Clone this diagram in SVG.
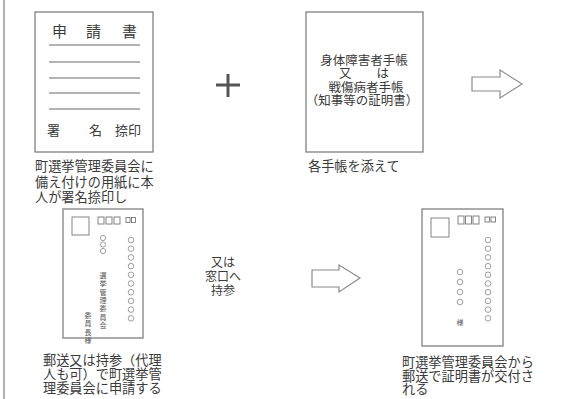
<svg xmlns="http://www.w3.org/2000/svg" width="571" height="399" viewBox="0 0 571 399">
<style>
.box{fill:#fff;stroke:#808080;stroke-width:1.3}
.ln{stroke:#6a6a6a;stroke-width:1.1}
.t{font-family:"Noto Sans CJK JP","Noto Sans CJK SC",sans-serif;fill:#3a3a3a}
.cap{font-size:13.2px}
.sm{font-size:7px;fill:#555}
.v{writing-mode:vertical-rl;text-orientation:upright;letter-spacing:1.3px}
.c{fill:none;stroke:#888;stroke-width:0.8}
.pc{fill:none;stroke:#777;stroke-width:0.9}
.arr{fill:#fff;stroke:#8a8a8a;stroke-width:1.2;stroke-linejoin:miter}
</style>
<rect width="571" height="399" fill="#fff"/>
<line x1="4" y1="0" x2="4" y2="399" stroke="#999" stroke-width="1.5"/>

<g id="form">
<rect class="box" x="35" y="12" width="118" height="140"/>
<text class="t" x="52" y="37" font-size="15">申</text>
<text class="t" x="86" y="37" font-size="15">請</text>
<text class="t" x="122" y="37" font-size="15">書</text>
<line class="ln" x1="49" y1="45" x2="140" y2="45"/>
<line class="ln" x1="49" y1="62" x2="140" y2="62"/>
<line class="ln" x1="49" y1="78" x2="140" y2="78"/>
<line class="ln" x1="49" y1="93" x2="140" y2="93"/>
<line class="ln" x1="49" y1="109" x2="140" y2="109"/>
<text class="t" x="47" y="135" font-size="13">署</text>
<text class="t" x="89" y="135" font-size="13">名</text>
<text class="t" x="115" y="135" font-size="13">捺印</text>
</g>
<g id="form-caption">
<text class="t cap" x="35" y="171">町選挙管理委員会に</text>
<text class="t cap" x="35" y="187">備え付けの用紙に本</text>
<text class="t cap" x="35" y="202">人が署名捺印し</text>
</g>

<g id="plus">
<rect x="216" y="83.5" width="24" height="3" fill="#555"/>
<rect x="226.5" y="74" width="3" height="23" fill="#555"/>
</g>

<g id="techo">
<rect class="box" x="306" y="12" width="117" height="140"/>
<text class="t" x="364" y="65" font-size="12.5" text-anchor="middle">身体障害者手帳</text>
<text class="t" x="364" y="78" font-size="12.5" text-anchor="middle">又　　は</text>
<text class="t" x="366" y="91.5" font-size="12.5" text-anchor="middle">戦傷病者手帳</text>
<text class="t" x="362" y="105" font-size="12.5" text-anchor="middle">（知事等の証明書）</text>
</g>
<g id="techo-caption">
<text class="t cap" x="308" y="171">各手帳を添えて</text>
</g>

<g id="connectors">
<path class="arr" d="M472 77 H500 V70 L522 84 L500 98 V91 H472 Z"/>
<path class="arr" d="M312 270 H339 V265 L360 278 L339 292 V287 H312 Z"/>
</g>

<g id="envelope-send">
<rect class="box" x="63" y="209" width="80" height="129"/>
<rect class="pc" x="72" y="217" width="17" height="18"/>
<rect class="pc" x="98" y="217" width="6" height="7"/>
<rect class="pc" x="106" y="217" width="6" height="7"/>
<rect class="pc" x="114" y="217" width="6" height="7"/>
<rect class="pc" x="126" y="217.5" width="4" height="5"/>
<rect class="pc" x="131.5" y="217.5" width="4" height="5"/>
<circle class="c" cx="103" cy="238" r="2.6"/>
<circle class="c" cx="103" cy="244.5" r="2.6"/>
<circle class="c" cx="103" cy="251" r="2.6"/>
<text class="t sm v" x="103" y="272">選挙管理委員会</text>
<text class="t sm v" x="88" y="312">委員長様</text>
<circle class="c" cx="131" cy="240" r="2.8"/>
<circle class="c" cx="131" cy="248.7" r="2.8"/>
<circle class="c" cx="131" cy="257.4" r="2.8"/>
<circle class="c" cx="131" cy="266.1" r="2.8"/>
<circle class="c" cx="131" cy="274.8" r="2.8"/>
<circle class="c" cx="131" cy="283.5" r="2.8"/>
<circle class="c" cx="131" cy="292.2" r="2.8"/>
<circle class="c" cx="131" cy="300.9" r="2.8"/>
<circle class="c" cx="131" cy="309.6" r="2.8"/>
<circle class="c" cx="131" cy="318.3" r="2.8"/>
</g>
<g id="send-caption">
<text class="t cap" x="43" y="365">郵送又は持参（代理</text>
<text class="t cap" x="43" y="379">人も可）で町選挙管</text>
<text class="t cap" x="43" y="393">理委員会に申請する</text>
</g>

<g id="window-note">
<text class="t" x="223" y="267" font-size="12" text-anchor="middle" fill="#555">又は</text>
<text class="t" x="223" y="281" font-size="12" text-anchor="middle" fill="#555">窓口へ</text>
<text class="t" x="223" y="295" font-size="12" text-anchor="middle" fill="#555">持参</text>
</g>

<g id="envelope-return">
<rect class="box" x="422" y="209" width="81" height="137"/>
<rect class="pc" x="431" y="218" width="18" height="19"/>
<rect class="pc" x="458" y="216" width="6" height="8"/>
<rect class="pc" x="465.5" y="216" width="6" height="8"/>
<rect class="pc" x="473" y="216" width="6" height="8"/>
<rect class="pc" x="485" y="217" width="4.5" height="5"/>
<rect class="pc" x="491" y="217" width="4.5" height="5"/>
<circle class="c" cx="488" cy="240" r="2.8"/>
<circle class="c" cx="488" cy="248.7" r="2.8"/>
<circle class="c" cx="488" cy="257.4" r="2.8"/>
<circle class="c" cx="488" cy="266.1" r="2.8"/>
<circle class="c" cx="488" cy="274.8" r="2.8"/>
<circle class="c" cx="488" cy="283.5" r="2.8"/>
<circle class="c" cx="488" cy="292.2" r="2.8"/>
<circle class="c" cx="488" cy="300.9" r="2.8"/>
<circle class="c" cx="488" cy="309.6" r="2.8"/>
<circle class="c" cx="488" cy="318.3" r="2.8"/>
<circle class="c" cx="460" cy="272" r="2.8"/>
<circle class="c" cx="460" cy="282" r="2.8"/>
<circle class="c" cx="460" cy="292" r="2.8"/>
<circle class="c" cx="460" cy="302" r="2.8"/>
<text class="t sm" x="460" y="325" text-anchor="middle">様</text>
</g>
<g id="return-caption">
<text class="t cap" x="402" y="367">町選挙管理委員会から</text>
<text class="t cap" x="402" y="380.5">郵送で証明書が交付さ</text>
<text class="t cap" x="402" y="394">れる</text>
</g>
</svg>
